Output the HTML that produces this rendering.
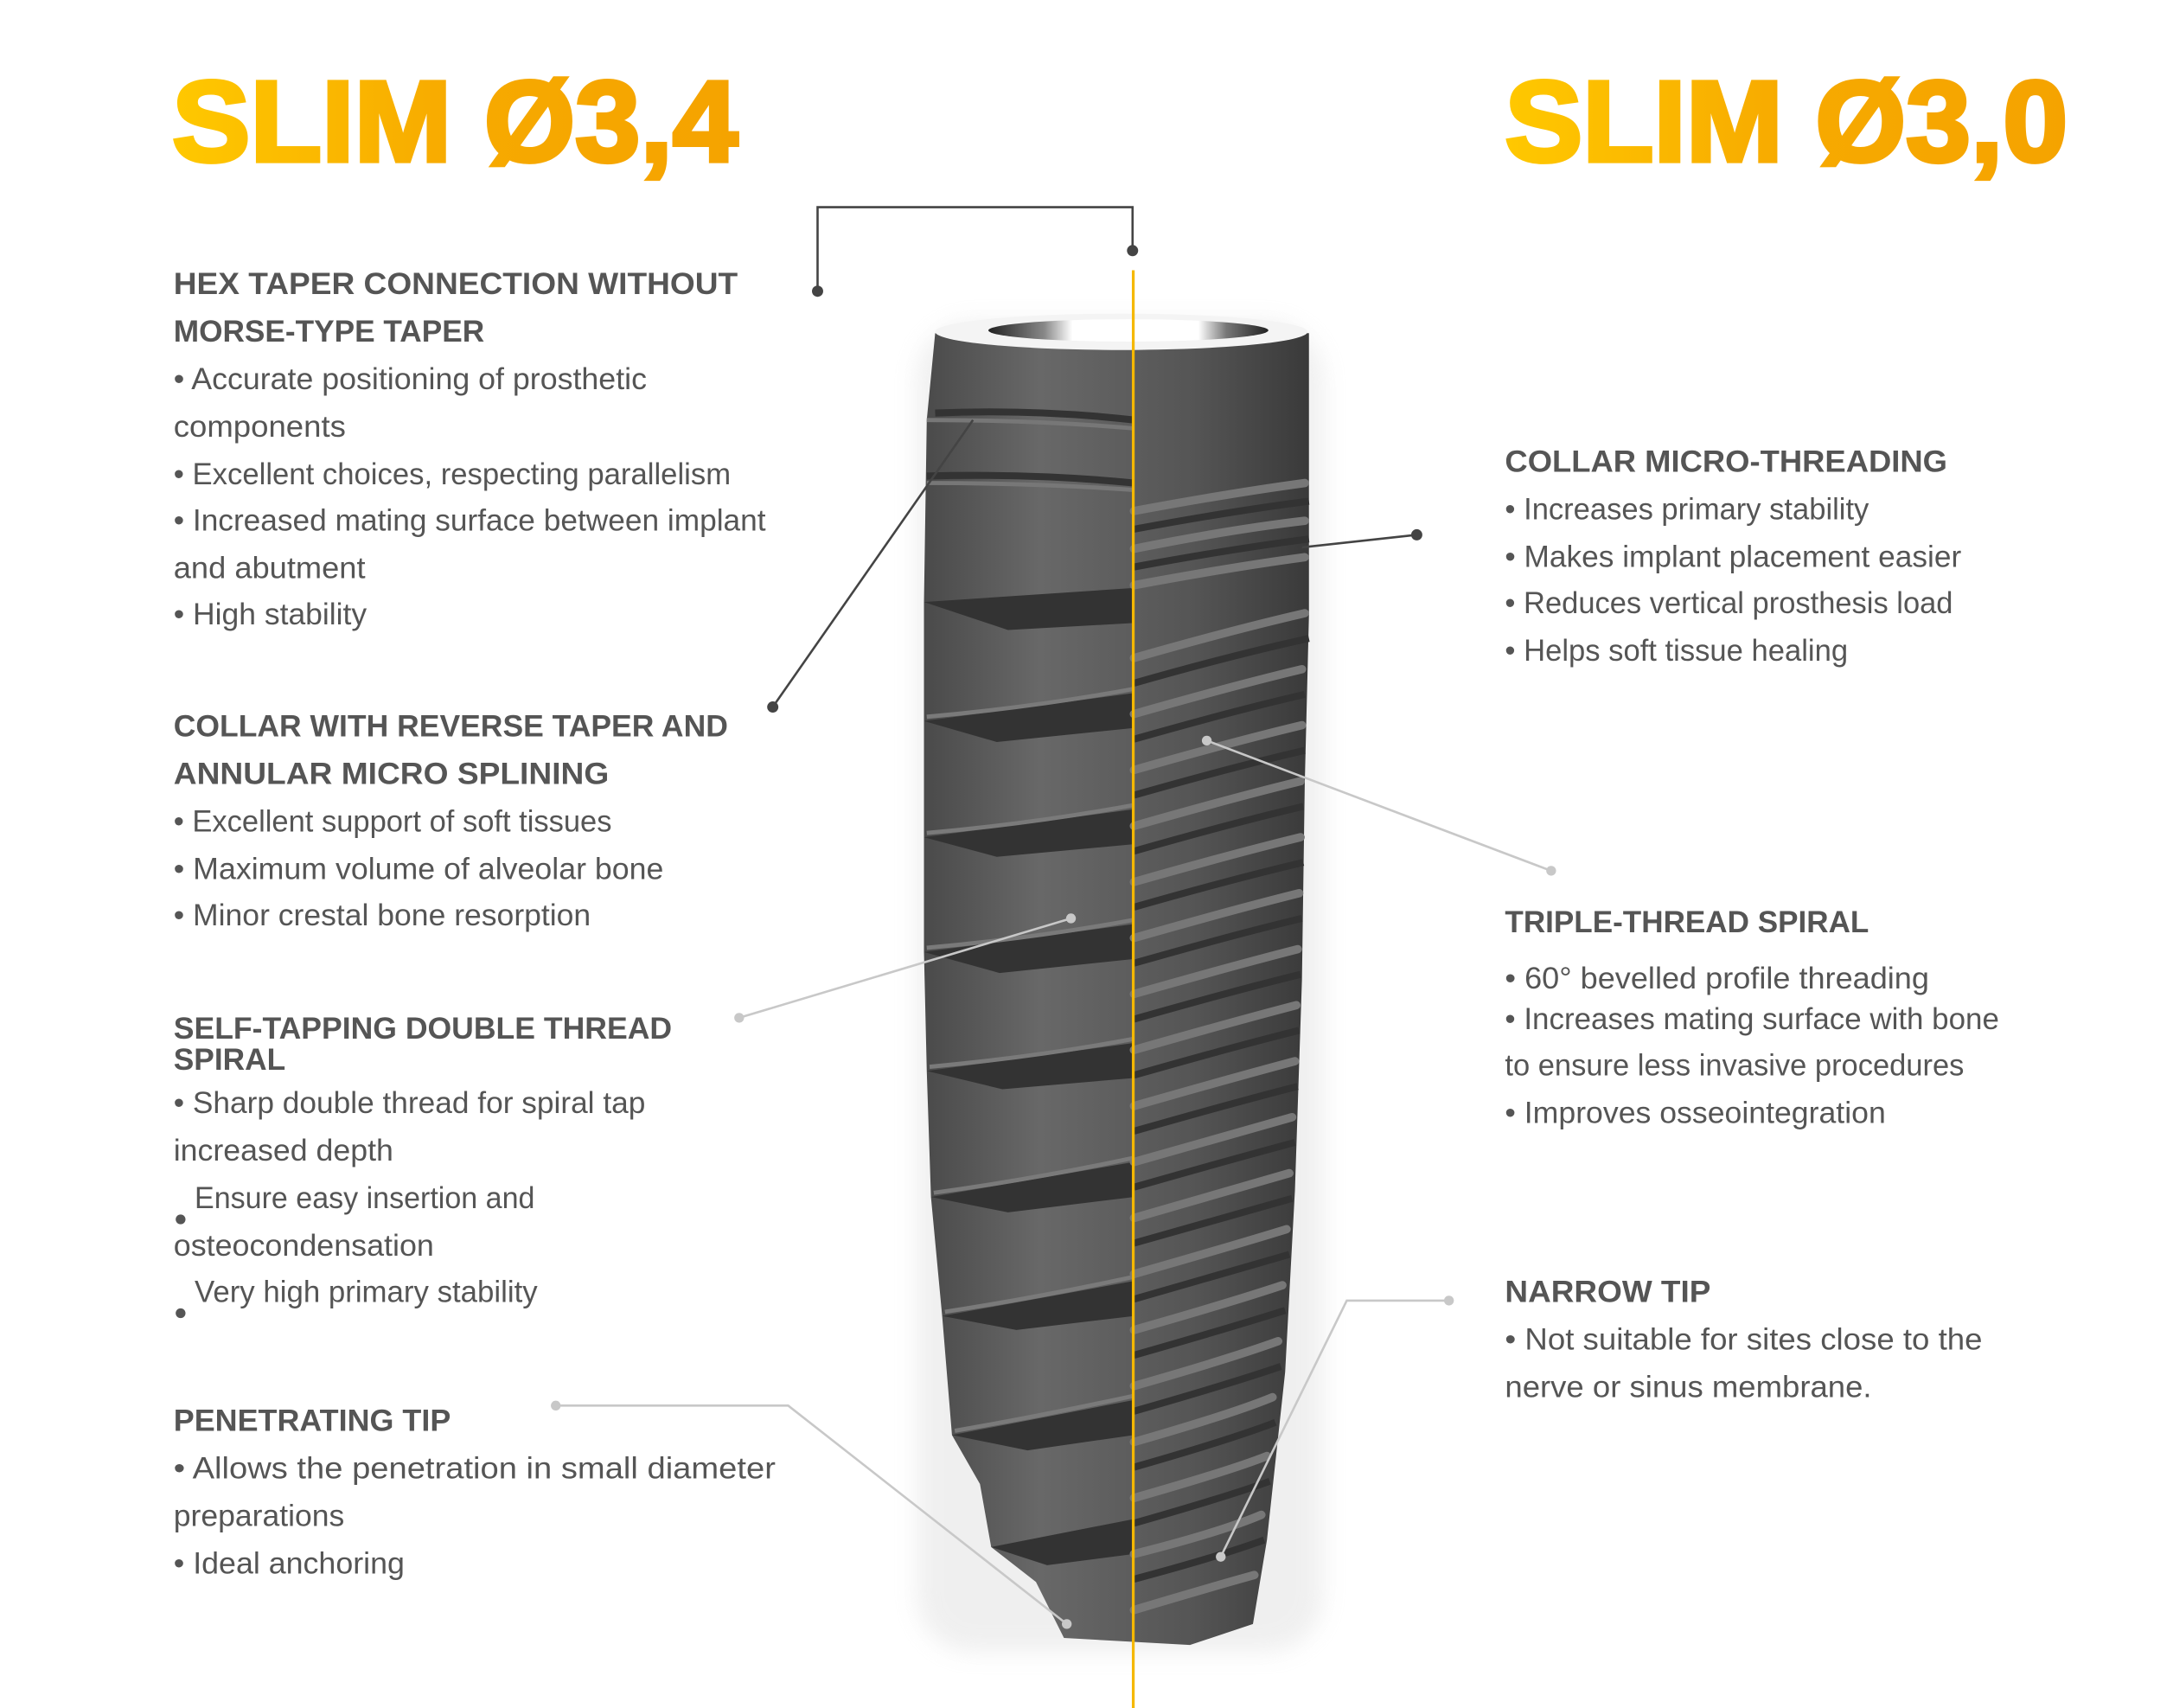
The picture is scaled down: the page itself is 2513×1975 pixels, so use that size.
<!DOCTYPE html>
<html><head><meta charset="utf-8"><style>
html,body{margin:0;padding:0;background:#fff;}
svg{display:block}
.h{font-family:"Liberation Sans",sans-serif;font-weight:bold;font-size:22px;fill:#555;}
.b{font-family:"Liberation Sans",sans-serif;font-size:22px;fill:#555;}
.t{font-family:"Liberation Sans",sans-serif;font-weight:bold;font-size:82px;}
</style></head><body>
<svg width="2513" height="1975" viewBox="0 0 1552.2 1220" preserveAspectRatio="none" xmlns="http://www.w3.org/2000/svg">
<defs>
<linearGradient id="tg" x1="0" x2="1" y1="0" y2="0"><stop offset="0" stop-color="#FFC800"/><stop offset="0.5" stop-color="#F7AA00"/><stop offset="1" stop-color="#F5A300"/></linearGradient>
<linearGradient id="bg" x1="0" x2="1" y1="0" y2="0"><stop offset="0" stop-color="#4a4a4a"/><stop offset="0.3" stop-color="#686868"/><stop offset="0.7" stop-color="#555"/><stop offset="1" stop-color="#3a3a3a"/></linearGradient>
<linearGradient id="hg" x1="0" x2="1"><stop offset="0" stop-color="#222"/><stop offset="0.2" stop-color="#888"/><stop offset="0.3" stop-color="#fff"/><stop offset="0.75" stop-color="#fff"/><stop offset="0.85" stop-color="#777"/><stop offset="1" stop-color="#222"/></linearGradient>
<filter id="sh" x="-20%" y="-10%" width="140%" height="120%"><feGaussianBlur stdDeviation="8"/></filter>
</defs>
<text class="t" x="123" y="115" textLength="404" lengthAdjust="spacingAndGlyphs" fill="url(#tg)" stroke="url(#tg)" stroke-width="3">SLIM Ø3,4</text>
<text class="t" x="1075" y="115" textLength="402" lengthAdjust="spacingAndGlyphs" fill="url(#tg)" stroke="url(#tg)" stroke-width="3">SLIM Ø3,0</text>

<rect x="655" y="230" width="290" height="950" rx="40" fill="#ccc" opacity="0.3" filter="url(#sh)"/>
<path d="M668,238 L935,238 L935,440 L932,560 L930,700 L925,850 L918,980 L905,1100 L895,1160 L850,1175 L760,1170 L740,1130 L708,1105 L700,1060 L680,1025 L673,940 L665,855 L662,765 L660,680 L660,598 L660,515 L660,430 L662,300 Z" fill="url(#bg)"/>
<path d="M668,295 Q740,292 810,300" stroke="#333" stroke-width="5" fill="none"/>
<path d="M662,340 Q740,338 810,345" stroke="#333" stroke-width="5" fill="none"/>
<path d="M662,300 Q740,300 810,306" stroke="#777" stroke-width="3" fill="none"/>
<path d="M662,345 Q740,345 810,350" stroke="#777" stroke-width="3" fill="none"/>
<g fill="#333">
<path d="M660,430 L810,420 L810,445 L720,450 Z"/>
<path d="M660,515 L810,495 L810,520 L712,530 Z"/>
<path d="M660,598 L810,578 L810,603 L712,612 Z"/>
<path d="M660,680 L810,660 L810,685 L714,695 Z"/>
<path d="M662,765 L810,745 L810,770 L716,778 Z"/>
<path d="M665,855 L810,830 L810,855 L720,866 Z"/>
<path d="M673,940 L810,915 L810,940 L726,950 Z"/>
<path d="M680,1025 L810,1000 L810,1025 L734,1036 Z"/>
<path d="M708,1105 L810,1085 L810,1110 L748,1118 Z"/>
</g>
<g fill="none" stroke="#7a7a7a" stroke-width="3">
<path d="M662,512 Q740,505 810,492"/>
<path d="M662,595 Q740,588 810,575"/>
<path d="M662,677 Q740,670 810,657"/>
<path d="M664,762 Q740,755 810,742"/>
<path d="M667,852 Q740,842 810,827"/>
<path d="M675,937 Q740,927 810,912"/>
<path d="M682,1022 Q740,1012 810,997"/>
</g>
<g fill="none" stroke="#777" stroke-width="6" stroke-linecap="round">
<path d="M810,365 Q880,352 932,345"/><path d="M810,392 Q880,378 932,372"/><path d="M810,418 Q880,405 932,398"/>
<path d="M810,470 Q880,450 932,438"/><path d="M810,510 Q880,490 930,478"/><path d="M810,550 Q880,530 930,518"/>
<path d="M810,590 Q880,570 929,558"/><path d="M810,630 Q880,610 929,598"/><path d="M810,670 Q880,650 928,638"/>
<path d="M810,710 Q880,690 927,678"/><path d="M810,750 Q880,730 926,718"/><path d="M810,790 Q880,770 925,758"/>
<path d="M810,830 Q880,810 923,798"/><path d="M810,870 Q880,850 921,838"/><path d="M810,910 Q880,890 919,878"/>
<path d="M810,950 Q880,930 916,918"/><path d="M810,990 Q880,970 913,958"/><path d="M810,1030 Q880,1010 909,998"/>
<path d="M810,1070 Q880,1050 905,1040"/><path d="M810,1110 Q870,1095 901,1082"/><path d="M810,1150 Q860,1135 896,1125"/>
</g>
<g fill="none" stroke="#333" stroke-width="5">
<path d="M810,378 Q880,365 935,358"/><path d="M810,405 Q880,392 935,385"/>
<path d="M810,488 Q880,468 935,456"/><path d="M810,528 Q880,508 932,496"/><path d="M810,568 Q880,548 932,536"/>
<path d="M810,608 Q880,588 931,576"/><path d="M810,648 Q880,628 931,616"/><path d="M810,688 Q880,668 930,656"/>
<path d="M810,728 Q880,708 929,696"/><path d="M810,768 Q880,748 928,736"/><path d="M810,808 Q880,788 927,776"/>
<path d="M810,848 Q880,828 925,816"/><path d="M810,888 Q880,868 923,856"/><path d="M810,928 Q880,908 921,896"/>
<path d="M810,968 Q880,948 918,936"/><path d="M810,1008 Q880,988 915,976"/><path d="M810,1048 Q880,1028 911,1016"/>
<path d="M810,1088 Q880,1068 907,1058"/><path d="M810,1128 Q870,1112 903,1100"/>
</g>
<ellipse cx="801" cy="237" rx="133" ry="13" fill="#f4f4f4"/>
<ellipse cx="806" cy="236" rx="100" ry="8" fill="url(#hg)"/>

<line x1="809.5" y1="193" x2="809.5" y2="1220" stroke="#F5B800" stroke-width="2"/>

<g stroke="#444" stroke-width="1.6" fill="none">
<path d="M584,208 L584,148 L809,148 L809,179"/>
<path d="M552,505 L695,300"/>
<path d="M1012,382 L930,391"/>
</g>
<g fill="#444"><circle cx="584" cy="208" r="4"/><circle cx="809" cy="179" r="4"/><circle cx="552" cy="505" r="4"/><circle cx="1012" cy="382" r="4"/></g>
<g stroke="#c8c8c8" stroke-width="1.6" fill="none">
<path d="M862,529 L1108,622"/>
<path d="M765,656 L528,727"/>
<path d="M397,1004 L563,1004 L762,1160"/>
<path d="M1035,929 L962,929 L872,1112"/>
</g>
<g fill="#c8c8c8"><circle cx="862" cy="529" r="3.5"/><circle cx="1108" cy="622" r="3.5"/><circle cx="765" cy="656" r="3.5"/><circle cx="528" cy="727" r="3.5"/><circle cx="397" cy="1004" r="3.5"/><circle cx="762" cy="1160" r="3.5"/><circle cx="1035" cy="929" r="3.5"/><circle cx="872" cy="1112" r="3.5"/></g>

<text class="h" x="124" y="210" textLength="403" lengthAdjust="spacingAndGlyphs">HEX TAPER CONNECTION WITHOUT</text>
<text class="h" x="124" y="244" textLength="222" lengthAdjust="spacingAndGlyphs">MORSE-TYPE TAPER</text>
<text class="b" x="124" y="278" textLength="338" lengthAdjust="spacingAndGlyphs">• Accurate positioning of prosthetic</text>
<text class="b" x="124" y="312" textLength="123" lengthAdjust="spacingAndGlyphs">components</text>
<text class="b" x="124" y="346" textLength="398" lengthAdjust="spacingAndGlyphs">• Excellent choices, respecting parallelism</text>
<text class="b" x="124" y="379" textLength="423" lengthAdjust="spacingAndGlyphs">• Increased mating surface between implant</text>
<text class="b" x="124" y="413" textLength="137" lengthAdjust="spacingAndGlyphs">and abutment</text>
<text class="b" x="124" y="446" textLength="138" lengthAdjust="spacingAndGlyphs">• High stability</text>

<text class="h" x="124" y="526" textLength="396" lengthAdjust="spacingAndGlyphs">COLLAR WITH REVERSE TAPER AND</text>
<text class="h" x="124" y="560" textLength="311" lengthAdjust="spacingAndGlyphs">ANNULAR MICRO SPLINING</text>
<text class="b" x="124" y="594" textLength="313" lengthAdjust="spacingAndGlyphs">• Excellent support of soft tissues</text>
<text class="b" x="124" y="628" textLength="350" lengthAdjust="spacingAndGlyphs">• Maximum volume of alveolar bone</text>
<text class="b" x="124" y="661" textLength="298" lengthAdjust="spacingAndGlyphs">• Minor crestal bone resorption</text>

<text class="h" x="124" y="742" textLength="356" lengthAdjust="spacingAndGlyphs">SELF-TAPPING DOUBLE THREAD</text>
<text class="h" x="124" y="764" textLength="80" lengthAdjust="spacingAndGlyphs">SPIRAL</text>
<text class="b" x="124" y="795" textLength="337" lengthAdjust="spacingAndGlyphs">• Sharp double thread for spiral tap</text>
<text class="b" x="124" y="829" textLength="157" lengthAdjust="spacingAndGlyphs">increased depth</text>
<text class="b" x="139" y="863" textLength="243" lengthAdjust="spacingAndGlyphs">Ensure easy insertion and</text>
<text class="b" x="124" y="897" textLength="186" lengthAdjust="spacingAndGlyphs">osteocondensation</text>
<text class="b" x="139" y="930" textLength="245" lengthAdjust="spacingAndGlyphs">Very high primary stability</text>
<circle cx="129" cy="871" r="3.5" fill="#555"/><circle cx="129" cy="938" r="3.5" fill="#555"/>

<text class="h" x="124" y="1022" textLength="198" lengthAdjust="spacingAndGlyphs">PENETRATING TIP</text>
<text class="b" x="124" y="1056" textLength="430" lengthAdjust="spacingAndGlyphs">• Allows the penetration in small diameter</text>
<text class="b" x="124" y="1090" textLength="122" lengthAdjust="spacingAndGlyphs">preparations</text>
<text class="b" x="124" y="1124" textLength="165" lengthAdjust="spacingAndGlyphs">• Ideal anchoring</text>

<text class="h" x="1075" y="337" textLength="316" lengthAdjust="spacingAndGlyphs">COLLAR MICRO-THREADING</text>
<text class="b" x="1075" y="371" textLength="260" lengthAdjust="spacingAndGlyphs">• Increases primary stability</text>
<text class="b" x="1075" y="405" textLength="326" lengthAdjust="spacingAndGlyphs">• Makes implant placement easier</text>
<text class="b" x="1075" y="438" textLength="320" lengthAdjust="spacingAndGlyphs">• Reduces vertical prosthesis load</text>
<text class="b" x="1075" y="472" textLength="245" lengthAdjust="spacingAndGlyphs">• Helps soft tissue healing</text>

<text class="h" x="1075" y="666" textLength="260" lengthAdjust="spacingAndGlyphs">TRIPLE-THREAD SPIRAL</text>
<text class="b" x="1075" y="706" textLength="303" lengthAdjust="spacingAndGlyphs">• 60° bevelled profile threading</text>
<text class="b" x="1075" y="735" textLength="353" lengthAdjust="spacingAndGlyphs">• Increases mating surface with bone</text>
<text class="b" x="1075" y="768" textLength="328" lengthAdjust="spacingAndGlyphs">to ensure less invasive procedures</text>
<text class="b" x="1075" y="802" textLength="272" lengthAdjust="spacingAndGlyphs">• Improves osseointegration</text>

<text class="h" x="1075" y="930" textLength="147" lengthAdjust="spacingAndGlyphs">NARROW TIP</text>
<text class="b" x="1075" y="964" textLength="341" lengthAdjust="spacingAndGlyphs">• Not suitable for sites close to the</text>
<text class="b" x="1075" y="998" textLength="262" lengthAdjust="spacingAndGlyphs">nerve or sinus membrane.</text>
</svg>
</body></html>
